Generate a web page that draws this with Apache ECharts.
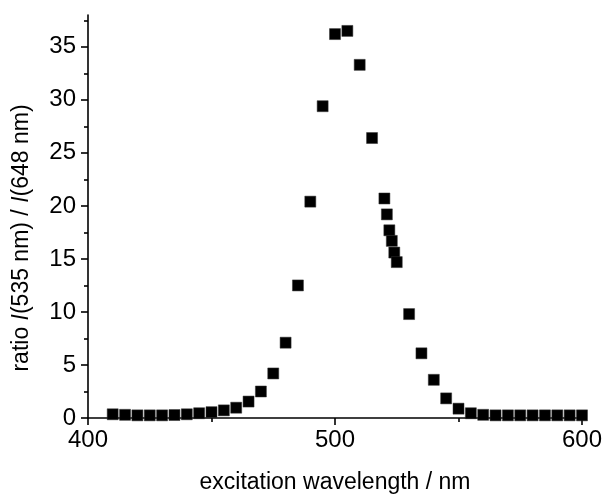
<!DOCTYPE html>
<html>
<head>
<meta charset="utf-8">
<script src="https://cdn.jsdelivr.net/npm/echarts@6/dist/echarts.min.js"></script>
<style>html,body{margin:0;padding:0;background:#fff}#c{width:606px;height:496px}</style>
</head>
<body>
<div id="c"></div>
<script>
var wavelengths = [410,415,420,425,430,435,440,445,450,455,460,465,470,475,480,485,490,495,500,505,510,515,520,521,522,523,524,525,530,535,540,545,550,555,560,565,570,575,580,585,590,595,600];
var ratios = [0.35,0.3,0.25,0.25,0.25,0.28,0.35,0.45,0.55,0.72,0.97,1.55,2.5,4.2,7.1,12.5,20.4,29.4,36.2,36.5,33.3,26.4,20.7,19.2,17.7,16.7,15.6,14.7,9.8,6.1,3.6,1.85,0.88,0.45,0.3,0.25,0.25,0.25,0.25,0.25,0.25,0.25,0.25];
var xTicks = [400,500,600];
var yMajor = [0,5,10,15,20,25,30,35];
var yMinor = [2.5,7.5,12.5,17.5,22.5,27.5,32.5,37.5];
var xLabel = 'excitation wavelength / nm';

var FONT = 'Liberation Sans, Arial, sans-serif';
var chart = echarts.init(document.getElementById('c'));
var pts = wavelengths.map(function(w,i){return [w, ratios[i]];});
chart.setOption({
  animation:false,
  backgroundColor:'#fff',
  grid:{left:88,right:24,top:15,bottom:78,containLabel:false,outerBoundsMode:'none'},
  xAxis:{
    type:'value',min:xTicks[0],max:xTicks[xTicks.length-1],interval:100,
    name:xLabel,nameLocation:'middle',nameGap:53,
    nameTextStyle:{fontFamily:FONT,fontSize:23,color:'#000'},
    axisLine:{lineStyle:{color:'#000',width:1.6}},
    axisTick:{show:true,length:7,inside:false,lineStyle:{color:'#000',width:1.6}},
    minorTick:{show:true,splitNumber:2,length:4,lineStyle:{color:'#000',width:1.6}},
    axisLabel:{fontFamily:FONT,fontSize:24,color:'#000',margin:10},
    splitLine:{show:false}
  },
  yAxis:[{
    type:'value',min:0,max:38,
    axisLine:{show:true,lineStyle:{color:'#000',width:1.6}},
    axisTick:{show:true,length:7,customValues:yMajor,lineStyle:{color:'#000',width:1.6}},
    axisLabel:{fontFamily:FONT,fontSize:24,color:'#000',margin:12,customValues:yMajor},
    splitLine:{show:false}
  },{
    type:'value',min:0,max:38,position:'left',
    axisLine:{show:false},
    axisTick:{show:true,length:4,customValues:yMinor,lineStyle:{color:'#000',width:1.6}},
    axisLabel:{show:false},
    splitLine:{show:false}
  }],
  graphic:[{
    type:'text',
    x:22,y:238,rotation:Math.PI/2,
    style:{
      text:'{n|ratio }{i|I}{n|(535 nm) / }{i|I}{n|(648 nm)}',
      align:'center',verticalAlign:'middle',
      rich:{
        n:{fontFamily:FONT,fontSize:23,fill:'#000'},
        i:{fontFamily:FONT,fontSize:23,fontStyle:'italic',fill:'#000'}
      }
    }
  }],
  series:[{
    type:'scatter',data:pts,symbol:'rect',symbolSize:11,
    itemStyle:{color:'#000',opacity:1,borderColor:'#333',borderWidth:0.5}
  }]
});
</script>
</body>
</html>
